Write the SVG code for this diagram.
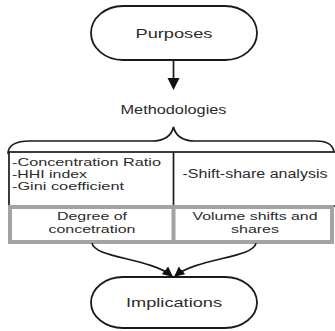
<svg xmlns="http://www.w3.org/2000/svg" width="335" height="331" viewBox="0 0 335 331">
<style>
text{font-family:"Liberation Sans",Arial,sans-serif;fill:#2b2b2b;}
.t{font-size:12px;}
.s{font-size:10.5px;}
.r2{font-size:11px;}
.big{font-size:13.5px;}
.m{text-anchor:middle;}
.pill{fill:#fff;stroke:#1a1a1a;stroke-width:1.8;}
.ln{fill:none;stroke:#1a1a1a;stroke-width:1.7;}
.gray{fill:#fff;stroke:#a3a3a3;stroke-width:4;}
</style>
<defs>
<marker id="ah" viewBox="0 0 10 10" refX="9" refY="5" markerWidth="10" markerHeight="10" orient="auto" markerUnits="userSpaceOnUse">
<path d="M0,0 L10,5 L0,10 z" fill="#111"/>
</marker>
</defs>
<g id="purposes">
<rect class="pill" x="91" y="6" width="166" height="54" rx="32" ry="27"/>
<text class="big m" x="174" y="38" textLength="77" lengthAdjust="spacingAndGlyphs">Purposes</text>
</g>
<g id="methodologies">
<text class="t m" x="173.5" y="114" textLength="106" lengthAdjust="spacingAndGlyphs">Methodologies</text>
<path class="ln" d="M8,154 Q8,141 30,141 L152,141 Q170,141 173.5,127 Q177,141 195,141 L316,141 Q334,141 334,154"/>
</g>
<g id="table">
<rect x="9" y="152" width="330" height="54" fill="#fff" stroke="#1a1a1a" stroke-width="1.7"/>
<line class="ln" x1="173.5" y1="152" x2="173.5" y2="206"/>
<text class="s" x="12" y="166" textLength="149" lengthAdjust="spacingAndGlyphs">-Concentration Ratio</text>
<text class="s" x="12" y="178" textLength="75" lengthAdjust="spacingAndGlyphs">-HHI index</text>
<text class="s" x="12" y="190" textLength="112" lengthAdjust="spacingAndGlyphs">-Gini coefficient</text>
<text class="t m" x="255" y="178" textLength="145" lengthAdjust="spacingAndGlyphs">-Shift-share analysis</text>
</g>
<g id="outcomes">
<rect class="gray" x="10" y="207" width="322" height="35"/>
<line x1="173.5" y1="207" x2="173.5" y2="242" stroke="#a3a3a3" stroke-width="4"/>
<text class="r2 m" x="92" y="220" textLength="70" lengthAdjust="spacingAndGlyphs">Degree of</text>
<text class="r2 m" x="92" y="233" textLength="87" lengthAdjust="spacingAndGlyphs">concetration</text>
<text class="r2 m" x="255" y="220" textLength="125" lengthAdjust="spacingAndGlyphs">Volume shifts and</text>
<text class="r2 m" x="255" y="233" textLength="48" lengthAdjust="spacingAndGlyphs">shares</text>
</g>
<g id="implications">
<rect class="pill" x="91" y="277" width="166" height="51" rx="32" ry="25.5"/>
<text class="big m" x="174" y="307" textLength="96" lengthAdjust="spacingAndGlyphs">Implications</text>
</g>
<g id="connectors">
<line class="ln" x1="173.5" y1="60" x2="173.5" y2="80"/>
<polygon points="167.5,78 179.5,78 173.5,90" fill="#111"/>
<path class="ln" d="M92,243 C94,258 150,258 172,276" marker-end="url(#ah)"/>
<path class="ln" d="M256,243 C254,258 197,258 175,276" marker-end="url(#ah)"/>
</g>
</svg>
